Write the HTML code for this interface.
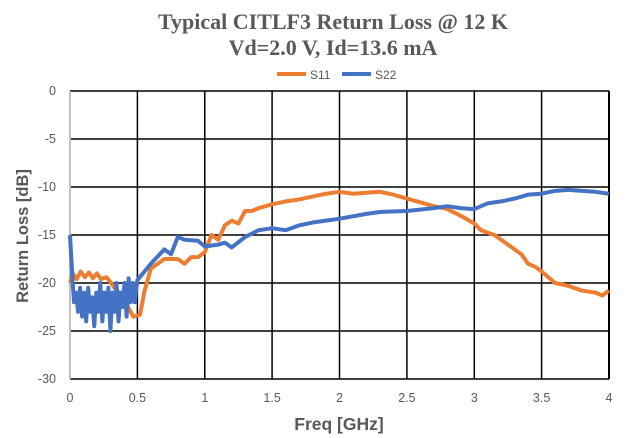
<!DOCTYPE html>
<html><head><meta charset="utf-8"><style>
body{margin:0;background:#fff;width:632px;height:438px;overflow:hidden}
svg{display:block}
</style></head><body>
<svg width="632" height="438" viewBox="0 0 632 438" xmlns="http://www.w3.org/2000/svg">
<rect width="632" height="438" fill="#fff"/>
<g font-family="Liberation Serif, serif" font-weight="bold" font-size="22" fill="#595959" text-anchor="middle">
<text x="333" y="29">Typical CITLF3 Return Loss @ 12 K</text>
<text x="333" y="55">Vd=2.0 V, Id=13.6 mA</text>
</g>
<g font-family="Liberation Sans, sans-serif" font-size="12" fill="#595959">
<line x1="277" y1="74" x2="306" y2="74" stroke="#ED7D31" stroke-width="4"/>
<text x="310" y="79">S11</text>
<line x1="342" y1="74" x2="371" y2="74" stroke="#4472C4" stroke-width="4"/>
<text x="375" y="79">S22</text>
</g>
<g stroke="#000" stroke-width="1.5">
<line x1="70" y1="91" x2="609" y2="91"/>
<line x1="70" y1="139" x2="609" y2="139"/>
<line x1="70" y1="187" x2="609" y2="187"/>
<line x1="70" y1="235" x2="609" y2="235"/>
<line x1="70" y1="283" x2="609" y2="283"/>
<line x1="70" y1="331" x2="609" y2="331"/>
<line x1="70" y1="379" x2="609" y2="379"/>
<line x1="137.4" y1="91" x2="137.4" y2="379"/>
<line x1="204.8" y1="91" x2="204.8" y2="379"/>
<line x1="272.1" y1="91" x2="272.1" y2="379"/>
<line x1="339.5" y1="91" x2="339.5" y2="379"/>
<line x1="406.9" y1="91" x2="406.9" y2="379"/>
<line x1="474.3" y1="91" x2="474.3" y2="379"/>
<line x1="541.6" y1="91" x2="541.6" y2="379"/>
<line x1="609" y1="91" x2="609" y2="379" stroke-width="2"/>
</g>
<line x1="70" y1="91" x2="70" y2="379" stroke="#bfbfbf" stroke-width="2"/>
<g font-family="Liberation Sans, sans-serif" font-size="12.5" fill="#595959" text-anchor="end">
<text x="56" y="95">0</text><text x="56" y="143">-5</text><text x="56" y="191">-10</text>
<text x="56" y="239">-15</text><text x="56" y="287">-20</text><text x="56" y="335">-25</text><text x="56" y="383">-30</text>
</g>
<g font-family="Liberation Sans, sans-serif" font-size="12.5" fill="#595959" text-anchor="middle">
<text x="70" y="402">0</text><text x="137.4" y="402">0.5</text><text x="204.8" y="402">1</text>
<text x="272.1" y="402">1.5</text><text x="339.5" y="402">2</text><text x="406.9" y="402">2.5</text>
<text x="474.3" y="402">3</text><text x="541.6" y="402">3.5</text><text x="609" y="402">4</text>
</g>
<text x="339" y="430" font-family="Liberation Sans, sans-serif" font-size="17.5" font-weight="bold" fill="#595959" text-anchor="middle">Freq [GHz]</text>
<text transform="translate(28,236) rotate(-90)" font-family="Liberation Sans, sans-serif" font-size="16.5" font-weight="bold" fill="#595959" text-anchor="middle">Return Loss [dB]</text>
<g transform="translate(70,91) scale(134.75,-9.6)" fill="none" stroke-linejoin="round">
<polyline vector-effect="non-scaling-stroke" stroke="#ED7D31" stroke-width="4" points="0,-20 0.02,-19 0.05,-19.6 0.08,-18.8 0.11,-19.4 0.14,-18.9 0.17,-19.5 0.2,-19 0.23,-19.6 0.27,-19.4 0.3,-19.9 0.33,-20.5 0.36,-21 0.4,-21 0.43,-22.5 0.47,-23.5 0.52,-23.3 0.55,-21 0.6,-18.5 0.7,-17.5 0.8,-17.5 0.85,-18 0.9,-17.3 0.95,-17.3 1.0,-16.8 1.05,-15 1.1,-15.5 1.15,-14 1.2,-13.5 1.25,-13.8 1.3,-12.5 1.35,-12.5 1.4,-12.2 1.5,-11.8 1.6,-11.5 1.7,-11.3 1.8,-11 1.9,-10.7 2,-10.5 2.1,-10.7 2.2,-10.6 2.3,-10.5 2.4,-10.8 2.5,-11.2 2.6,-11.6 2.7,-12 2.8,-12.3 2.9,-13 3,-13.8 3.05,-14.5 3.15,-15 3.25,-16 3.35,-17 3.4,-18 3.45,-18.3 3.5,-18.8 3.6,-20 3.7,-20.3 3.8,-20.8 3.9,-21 3.95,-21.3 4,-20.8"/>
<polyline vector-effect="non-scaling-stroke" stroke="#4472C4" stroke-width="4" points="0,-15 0.02,-20 0.03,-22 0.045,-21 0.06,-23 0.075,-20.5 0.09,-23.5 0.105,-21 0.12,-24 0.135,-20.5 0.15,-23 0.165,-21.5 0.18,-24.5 0.195,-21 0.21,-23 0.225,-20 0.24,-24 0.255,-21 0.27,-23 0.285,-20.5 0.3,-25 0.315,-21 0.33,-23 0.345,-20 0.36,-24 0.375,-21 0.39,-22.5 0.405,-20 0.42,-23.5 0.435,-19.5 0.45,-22 0.465,-20 0.48,-22 0.5,-19.7 0.6,-18 0.7,-16.5 0.75,-17 0.8,-15.2 0.85,-15.5 0.95,-15.6 1.0,-16.2 1.1,-16 1.15,-15.8 1.2,-16.3 1.3,-15.2 1.4,-14.5 1.5,-14.3 1.6,-14.5 1.7,-14 1.8,-13.7 1.9,-13.5 2,-13.3 2.2,-12.8 2.3,-12.6 2.5,-12.5 2.7,-12.2 2.8,-12 2.9,-12.2 3,-12.3 3.1,-11.7 3.2,-11.5 3.3,-11.2 3.4,-10.8 3.5,-10.7 3.6,-10.4 3.7,-10.3 3.8,-10.4 3.9,-10.5 4,-10.7"/>
</g>
</svg>
</body></html>
